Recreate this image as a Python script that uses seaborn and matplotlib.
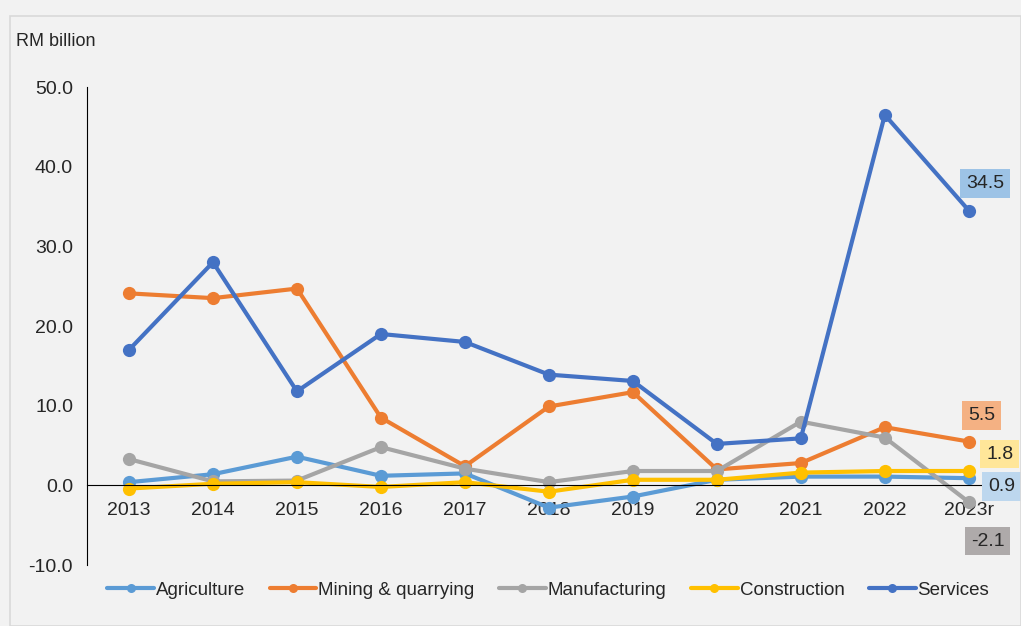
import matplotlib
matplotlib.use("Agg")
from matplotlib import pyplot as plt
from matplotlib.patches import Rectangle
import seaborn as sns
import pandas as pd
import numpy as np

# data (RM billion)
years = ["2013", "2014", "2015", "2016", "2017", "2018", "2019", "2020", "2021", "2022", "2023r"]
agriculture = [0.4, 1.4, 3.6, 1.2, 1.5, -2.8, -1.4, 0.7, 1.1, 1.1, 0.9]
mining = [24.1, 23.5, 24.7, 8.5, 2.4, 9.9, 11.7, 2.0, 2.8, 7.3, 5.5]
manufacturing = [3.3, 0.5, 0.6, 4.8, 2.1, 0.4, 1.8, 1.8, 8.0, 6.0, -2.1]
construction = [-0.4, 0.2, 0.4, -0.2, 0.4, -0.8, 0.7, 0.7, 1.6, 1.8, 1.8]
services = [17.0, 28.0, 11.8, 19.0, 18.0, 13.9, 13.1, 5.2, 5.9, 46.5, 34.5]

sectors = ["Agriculture", "Mining & quarrying", "Manufacturing", "Construction", "Services"]
colors = ["#5b9bd5", "#ed7d31", "#a5a5a5", "#ffc000", "#4472c4"]
box_colors = ["#bdd7ee", "#f4b183", "#aeaaaa", "#ffe699", "#9dc3e6"]
# label offset in pixels from the last point
label_off = [(33, -8), (13, 26), (19, -39), (31, 17), (16, 27)]

series = [agriculture, mining, manufacturing, construction, services]
df = pd.DataFrame({s: v for s, v in zip(sectors, series)})
df["pos"] = np.arange(len(years))
df = df.melt(id_vars="pos", var_name="sector", value_name="value")

sns.set_style("white")
plt.rcParams["font.family"] = ["Liberation Sans", "DejaVu Sans"]
bg = "#f2f2f2"

fig = plt.figure(figsize=(10.21, 6.26), dpi=100, facecolor=bg)
ax = fig.add_axes([0.0852, 0.0974, 0.9048, 0.7636])
ax.set_facecolor(bg)

sns.lineplot(data=df, x="pos", y="value", hue="sector", hue_order=sectors,
             palette=colors, marker="o", markersize=9.5, markeredgewidth=0,
             linewidth=3.0, ax=ax, legend=True)

ax.set_xlim(-0.5, len(years) - 0.5)
ax.set_ylim(-10, 50)
ax.set_yticks(np.arange(-10, 51, 10))
ax.set_yticklabels(["{:.1f}".format(t) for t in np.arange(-10, 51, 10)], fontsize=14)
ax.tick_params(axis="y", direction="out", length=5, width=1, color="black", pad=5)

# x axis crosses at zero, ticks at category boundaries
ax.spines["bottom"].set_position(("data", 0))
ax.spines["bottom"].set_color("black")
ax.spines["left"].set_color("black")
ax.spines["top"].set_visible(False)
ax.spines["right"].set_visible(False)
ax.set_xticks(np.arange(-0.5, len(years), 1.0))
ax.set_xticklabels([])
ax.tick_params(axis="x", which="major", direction="out", length=5, width=1, color="black")
ax.set_xticks(np.arange(len(years)), minor=True)
ax.set_xticklabels(years, minor=True, fontsize=14)
ax.tick_params(axis="x", which="minor", length=0, pad=12)
ax.set_xlabel("")
ax.set_ylabel("")

# value labels on the last year
for vals, col, off in zip(series, box_colors, label_off):
    ax.annotate("{:.1f}".format(vals[-1]), xy=(len(years) - 1, vals[-1]),
                xytext=off, textcoords="offset pixels", ha="center", va="center",
                fontsize=14, annotation_clip=False,
                bbox=dict(boxstyle="square,pad=0.3", fc=col, ec="none"))

fig.text(16 / 1021, 1 - 42 / 626, "RM billion", fontsize=13, ha="left", va="center")

handles, labels = ax.get_legend_handles_labels()
ax.legend_.remove()
for h in handles:
    h.set_markersize(6.5)
fig.legend(handles, labels, loc="center", bbox_to_anchor=(0.537, 1 - 590 / 626),
           ncol=5, frameon=False, fontsize=13.5, handlelength=2.5,
           handletextpad=0.1, columnspacing=1.3)

# light frame round the chart area
fig.patches.append(Rectangle((10 / 1021, 0), 1 - 10 / 1021, 1 - 16 / 626,
                             transform=fig.transFigure, fill=False,
                             ec="#d9d9d9", lw=1.2))

fig.savefig("out.png", dpi=100, facecolor=bg)
